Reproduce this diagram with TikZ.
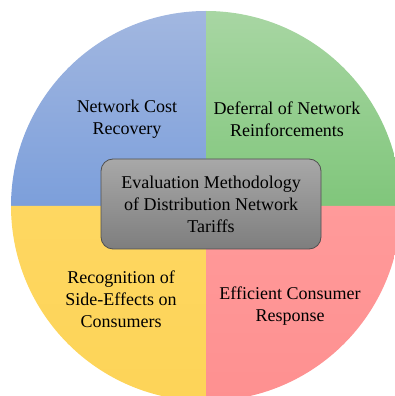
\documentclass[tikz,border=0pt]{standalone}
\usepackage{fontspec}
\setmainfont{Liberation Serif}

\definecolor{costtop}{HTML}{A2B7E0}
\definecolor{costbot}{HTML}{7C9FDB}
\definecolor{defertop}{HTML}{A8D6A3}
\definecolor{deferbot}{HTML}{80C67B}
\definecolor{sidetop}{HTML}{FED761}
\definecolor{sidebot}{HTML}{FDD458}
\definecolor{resptop}{HTML}{FF9A9A}
\definecolor{respbot}{HTML}{FE9090}
\definecolor{hubtop}{HTML}{A8A8A8}
\definecolor{hubbot}{HTML}{7E7E7E}
\definecolor{hubedge}{HTML}{505050}

\begin{document}
\begin{tikzpicture}[
		x=1pt, y=1pt,
		quarter/.style={shade, shading angle=0},
		topic/.style={align=center, text=black, font=\fontsize{18}{22}\selectfont},
		hub/.style={draw=hubedge, thick, rounded corners=12pt, top color=hubtop, bottom color=hubbot, minimum width=220pt, minimum height=90pt, align=center, font=\fontsize{18}{22}\selectfont},
	]
		\useasboundingbox (0,0) rectangle (395,396);
		\clip (0,0) rectangle (395,396);
		\coordinate (mid) at (206,190);

		% four quarters of the wheel
		\path[quarter, top color=costtop, bottom color=costbot] (mid) -- ++(180:195) arc[start angle=180, end angle=90, radius=195] -- cycle;
		\path[quarter, top color=defertop, bottom color=deferbot] (mid) -- ++(90:195) arc[start angle=90, end angle=0, radius=195] -- cycle;
		\path[quarter, top color=resptop, bottom color=respbot] (mid) -- ++(0:195) arc[start angle=0, end angle=-90, radius=195] -- cycle;
		\path[quarter, top color=sidetop, bottom color=sidebot] (mid) -- ++(-90:195) arc[start angle=-90, end angle=-180, radius=195] -- cycle;

		\node[topic] (cost) at (127,277) {Network Cost\\Recovery};
		\node[topic] (defer) at (287,277) {Deferral of Network\\Reinforcements};
		\node[topic] (side) at (121,97) {Recognition of\\Side-Effects on\\Consumers};
		\node[topic] (resp) at (290,90) {Efficient Consumer\\Response};

		\node[hub] (eval) at (211,192) {Evaluation Methodology\\of Distribution Network\\Tariffs};
	\end{tikzpicture}
\end{document}
